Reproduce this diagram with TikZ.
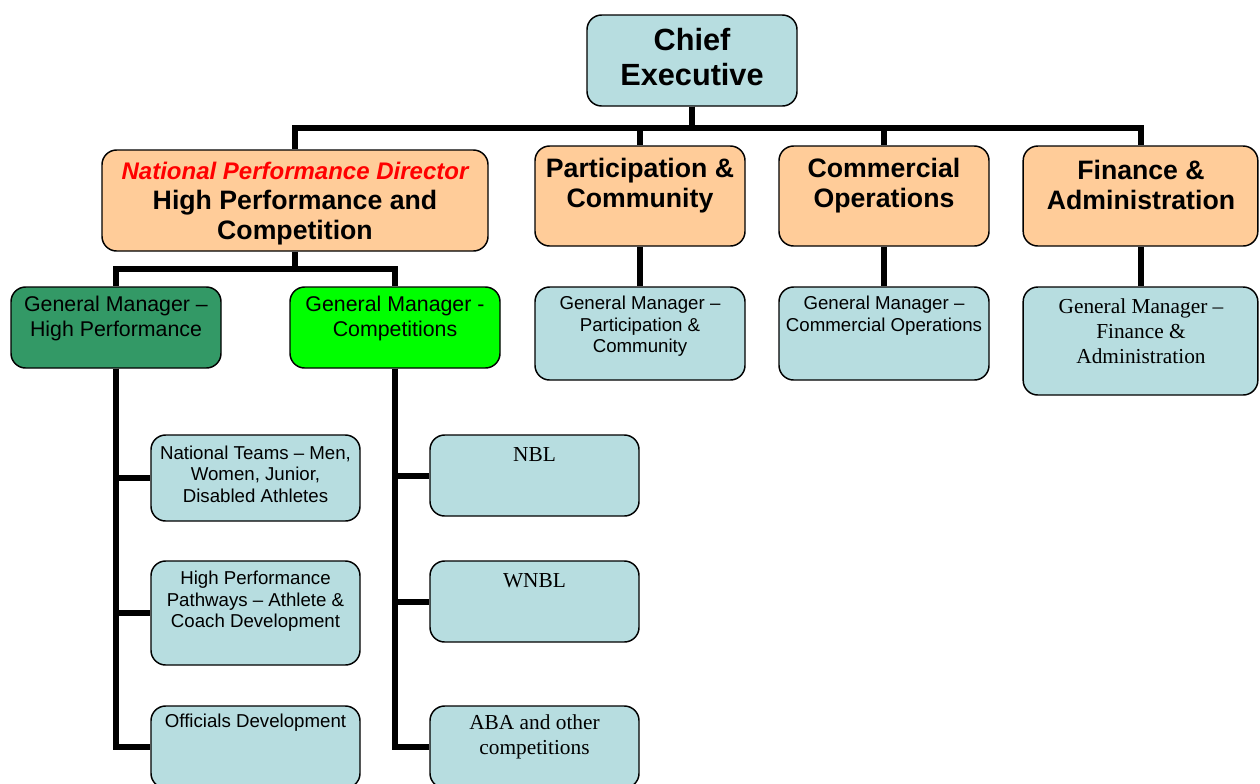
\documentclass[tikz,border=0pt]{standalone}
\usepackage{fontspec}
\setmainfont{Liberation Sans}
\newfontfamily\timesfont[Ligatures=TeX]{Liberation Serif}
\definecolor{boxblue}{RGB}{183,221,224}
\definecolor{peach}{RGB}{255,204,153}
\definecolor{darkgreen}{RGB}{51,153,102}
\definecolor{brightgreen}{RGB}{0,255,0}

\begin{document}
\begin{tikzpicture}[x=0.75pt,y=-0.75pt,
  box/.style={draw,line width=1.1pt,rounded corners=11pt,inner sep=0pt},
  blue box/.style={box,fill=boxblue},
  peach box/.style={box,fill=peach},
  txt/.style={align=center,inner sep=0pt},
  big/.style={txt,font=\bfseries\fontsize{20}{22.5}\selectfont},
  small/.style={txt,font=\fontsize{14}{16.2}\selectfont},
  times/.style={txt,font=\timesfont\fontsize{16}{18.75}\selectfont},
  conn/.style={line width=4.5pt}]

  \useasboundingbox (0,0) rectangle (1260,783);
  \clip (0,0) rectangle (1260,783);

  % top levels
  \node[blue box,minimum width=157.5pt,minimum height=68.25pt] (ce) at (692,60.5) {};
  \node[peach box,minimum width=289.5pt,minimum height=75.75pt] (hpc) at (295,200.5) {};
  \node[peach box,minimum width=157.5pt,minimum height=75pt] (pc) at (640,196) {};
  \node[peach box,minimum width=157.5pt,minimum height=75pt] (co) at (884,196) {};
  \node[peach box,minimum width=176pt,minimum height=75pt] (fa) at (1140.5,196) {};

  \node[txt,font=\bfseries\fontsize{23}{26.25}\selectfont] (ce-t) at (692,57) {Chief\\Executive};
  \node[big] (hpc-t) at (295,204) {{\color{red}\itshape\fontsize{18}{22.5}\selectfont National Performance Director}\\High Performance and\\Competition};
  \node[big] (pc-t) at (640,186) {Participation \&\\Community};
  \node[big] (co-t) at (884,186) {Commercial\\Operations};
  \node[big] (fa-t) at (1141,185) {Finance \&\\Administration};

  % general managers
  \node[box,fill=darkgreen,minimum width=157.5pt,minimum height=60.75pt] (gmhp) at (116,327.5) {};
  \node[box,fill=brightgreen,minimum width=157.5pt,minimum height=60.75pt] (gmc) at (395,327.5) {};
  \node[blue box,minimum width=157.5pt,minimum height=69.75pt] (gmpc) at (640,333.5) {};
  \node[blue box,minimum width=157.5pt,minimum height=69.75pt] (gmco) at (884,333.5) {};
  \node[blue box,minimum width=176pt,minimum height=81pt] (gmfa) at (1140.5,341) {};

  \node[txt,font=\fontsize{16}{18.75}\selectfont] (gmhp-t) at (116,318.5) {General Manager --\\High Performance};
  \node[txt,font=\fontsize{16}{18.75}\selectfont] (gmc-t) at (395,318.5) {General Manager -\\Competitions};
  \node[small] (gmpc-t) at (640,326.5) {General Manager --\\Participation \&\\Community};
  \node[small] (gmco-t) at (884,315.5) {General Manager --\\Commercial Operations};
  \node[times] (gmfa-t) at (1141,331) {General Manager --\\Finance \&\\Administration};

  % high performance units
  \node[blue box,minimum width=156.75pt,minimum height=64.5pt] (nt) at (255.5,478) {};
  \node[blue box,minimum width=156.75pt,minimum height=78pt] (hpp) at (255.5,613) {};
  \node[blue box,minimum width=156.75pt,minimum height=61.5pt] (od) at (255.5,747) {};
  \node[small] (nt-t) at (255.5,474) {National Teams -- Men,\\Women, Junior,\\Disabled Athletes};
  \node[small] (hpp-t) at (255.5,601.5) {High Performance\\Pathways -- Athlete \&\\Coach Development};
  \node[small] (od-t) at (255.5,723) {Officials Development};

  % competitions
  \node[blue box,minimum width=156.75pt,minimum height=60.75pt] (nbl) at (534.5,475.5) {};
  \node[blue box,minimum width=156.75pt,minimum height=60.75pt] (wnbl) at (534.5,601.5) {};
  \node[blue box,minimum width=156.75pt,minimum height=61.5pt] (aba) at (534.5,747) {};
  \node[times] (nbl-t) at (534.5,454.5) {NBL};
  \node[times] (wnbl-t) at (534.5,580.5) {WNBL};
  \node[times] (aba-t) at (534.5,737) {ABA and other\\competitions};

  % connectors
  \draw[conn] (ce.south) -- ++(0,21) -| (hpc.north);
  \draw[conn] (ce.south) -- ++(0,21) -| (pc.north);
  \draw[conn] (ce.south) -- ++(0,21) -| (co.north);
  \draw[conn] (ce.south) -- ++(0,21) -| (fa.north);
  \draw[conn] (hpc.south) -- ++(0,17) -| (gmhp.north);
  \draw[conn] (hpc.south) -- ++(0,17) -| (gmc.north);
  \draw[conn] (pc) -- (gmpc);
  \draw[conn] (co.south) -- (gmco.north);
  \draw[conn] (fa.south) -- (gmfa.north);
  \draw[conn] (gmhp.south) |- (nt.west);
  \draw[conn] (gmhp.south) |- (hpp.west);
  \draw[conn] (gmhp.south) |- (od.west);
  \draw[conn] (gmc.south) |- (nbl.west);
  \draw[conn] (gmc.south) |- (wnbl.west);
  \draw[conn] (gmc.south) |- (aba.west);

\end{tikzpicture}
\end{document}
